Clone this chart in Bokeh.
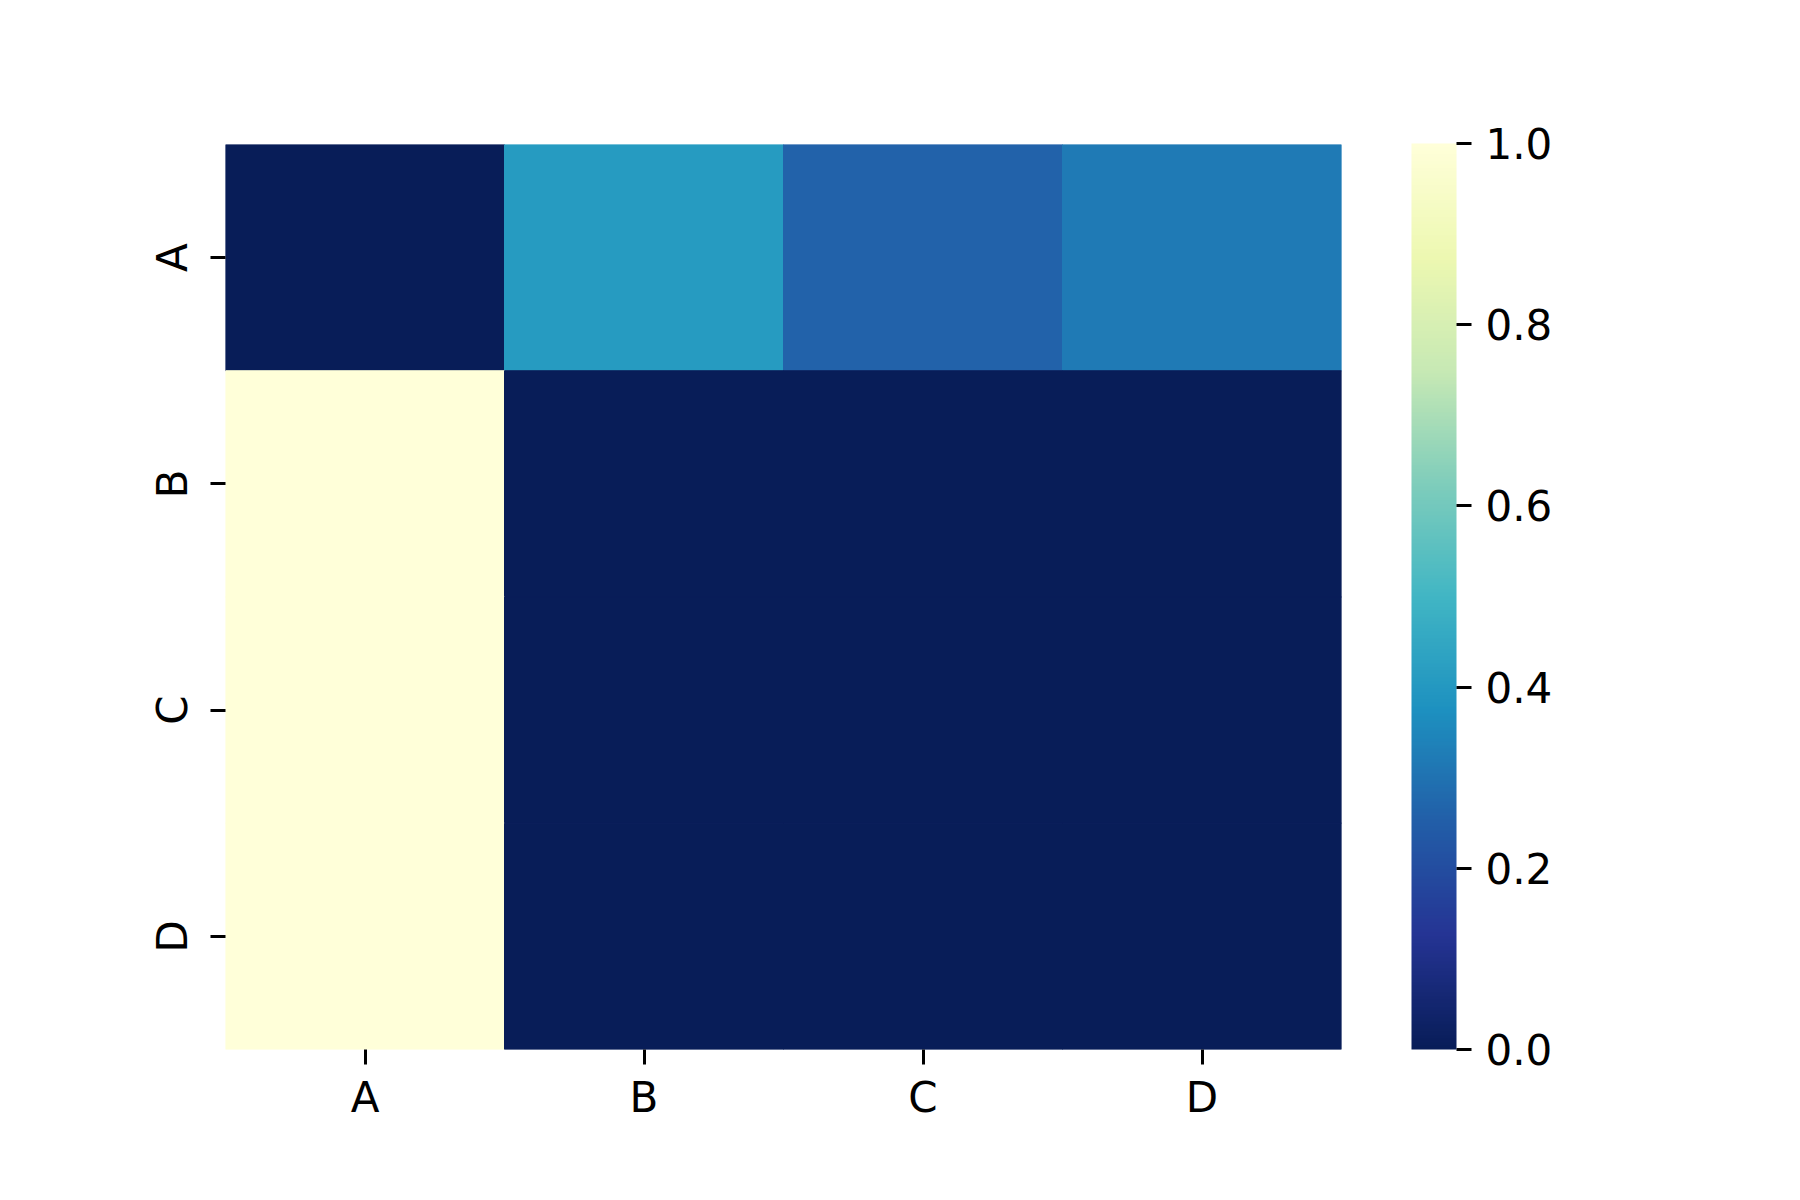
import numpy as np
from bokeh.plotting import figure
from bokeh.models import ColumnDataSource, LinearColorMapper, ColorBar, FixedTicker, PrintfTickFormatter, FactorRange
from bokeh.embed import file_html
from bokeh.resources import INLINE

# Data
col_labels = ["A", "B", "C", "D"]
row_labels = ["A", "B", "C", "D"]
row_A = [0.0, 0.41, 0.26, 0.32]
row_B = [1.0, 0.0, 0.0, 0.0]
row_C = [1.0, 0.0, 0.0, 0.0]
row_D = [1.0, 0.0, 0.0, 0.0]
cbar_ticks = [0.0, 0.2, 0.4, 0.6, 0.8, 1.0]

# YlGnBu anchors (matplotlib), interpolated to a 256-colour palette
anchors = ["#ffffd9", "#edf8b1", "#c7e9b4", "#7fcdbb", "#41b6c4",
           "#1d91c0", "#225ea8", "#253494", "#081d58"][::-1]
rgb = np.array([[int(h[i:i + 2], 16) for i in (1, 3, 5)] for h in anchors], float)
pos = np.linspace(0, 1, len(anchors))
t = np.linspace(0, 1, 256)
palette = ["#%02x%02x%02x" % tuple(int(round(np.interp(v, pos, rgb[:, k]))) for k in range(3)) for v in t]

rows = [row_A, row_B, row_C, row_D]
xs, ys, vals = [], [], []
for rname, rvals in zip(row_labels, rows):
    for cname, v in zip(col_labels, rvals):
        xs.append(cname)
        ys.append(rname)
        vals.append(v)
src = ColumnDataSource(dict(x=xs, y=ys, v=vals))

mapper = LinearColorMapper(palette=palette, low=0.0, high=1.0)

p = figure(width=1784, height=1184, output_backend="svg", toolbar_location=None,
           x_range=FactorRange(*col_labels), y_range=FactorRange(*row_labels[::-1]),
           min_border_left=225, min_border_right=443, min_border_top=144, min_border_bottom=135)
p.outline_line_color = None
p.grid.visible = False
p.x_range.range_padding = 0
p.y_range.range_padding = 0

p.rect(x="x", y="y", width=1, height=1, source=src,
       fill_color={"field": "v", "transform": mapper},
       line_color={"field": "v", "transform": mapper}, line_width=1)

for ax in (p.xaxis, p.yaxis):
    ax.axis_line_color = None
    ax.major_tick_line_color = "black"
    ax.major_tick_line_width = 3
    ax.major_tick_out = 15
    ax.major_tick_in = 0
    ax.minor_tick_line_color = None
    ax.major_label_text_font = "DejaVu Sans"
    ax.major_label_text_font_size = "42px"
    ax.major_label_text_color = "black"
    ax.major_label_standoff = 14
p.xaxis.major_label_standoff = 8
p.yaxis.major_label_orientation = "vertical"

cb = ColorBar(color_mapper=mapper, width=45, height=906, location=(70, 0),
              ticker=FixedTicker(ticks=cbar_ticks), formatter=PrintfTickFormatter(format="%.1f"),
              major_tick_out=15, major_tick_in=0, major_tick_line_color="black", major_tick_line_width=3,
              minor_tick_line_color=None, bar_line_color=None, label_standoff=14,
              major_label_text_font="DejaVu Sans", major_label_text_font_size="42px",
              major_label_text_color="black", padding=0, margin=0,
              background_fill_color=None, border_line_color=None)
p.add_layout(cb, "right")

open("out.html", "w").write(file_html(p, INLINE))
